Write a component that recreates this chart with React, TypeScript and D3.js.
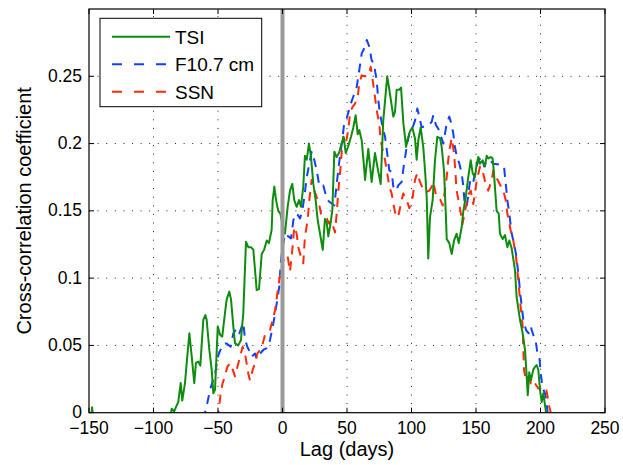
import React from "react";
import * as d3 from "d3";

// ---- Data ----
const xTicks = [-150, -100, -50, 0, 50, 100, 150, 200, 250];
const yTicks = [0, 0.05, 0.1, 0.15, 0.2, 0.25];
const seriesNames = ["TSI", "F10.7 cm", "SSN"];

const tsiLag = [
  -149, -147.6, -146.2, NaN,
  -87, -85.9, -84, -80.8, -78.9, -77.7, -75.6, -73.8, -72.2, -70.4, -68.4, -67.1, -65.3, -63.7,
  -61.4, -59.8, -58.8, -56.7, -54.9, -53.6, -52.3, -50.2, -48.4, -46.7, -44.6, -43.3, -41.2,
  -39.9, -38.1, -36.8, -34.3, -32.2, -30.4, -28.3, -26.5, -24.4, -22.6, -21.3, -20.0, -18.2,
  -16.1, -14.3, -12.2, -10.5, -8.4, -7.6, -6.3, -5.0, -3.3, -1.7, 0, 1.9, 4.0, 5.8, 7.6, 9.1,
  11.0, 12.8, 14.3, 16.1, 17.4, 18.8, 20.5, 22.1, 23.9, 25.7, 27.3, 29.1, 31.2, 32.9, 34.3,
  35.5, 36.8, 38.6, 40.2, 42.0, 43.8, 45.9, 47.4, 49.0, 51.0, 53.1, 54.9, 56.7, 58.3, 59.5,
  61.4, 63.2, 64.0, 66.5, 69.1, 71.7, 73.5, 76.1, 78.1, 81.2, 83.3, 85.9, 87.2, 88.5, 90.5,
  91.9, 93.7, 95.8, 96.8, 98.8, 100.6, 102.7, 104.0, 105.3, 107.1, 109.1, 110.5, 111.8, 113.0,
  114.3, 116.4, 118.2, 120.0, 122.1, 123.4, 125.2, 126.7, 127.3, 129.3, 131.2, 133.0, 135.0,
  136.6, 138.9, 140.2, 142.0, 144.0, 145.9, 147.4, 149.2, 150.5, 151.8, 153.1, 155.2, 157.0,
  158.3, 159.5, 161.4, 162.9, 163.9, 166.0, 167.6, 168.6, 170.7, 172.5, 174.3, 175.8, 177.7,
  180.2, 181.5, 184.1, 186.2, 188.0, 189.3, 190.1, 191.3, 192.6, 194.4, 195.7, 197.0, 198.3,
  199.6, 200.9, 202.2, 204.3, 205.5,
];
const tsiVal = [
  -0.01, 0.004, -0.01, NaN,
  -0.005, 0.003, 0.001, 0.008, 0.022, 0.009, 0.022, 0.042, 0.059, 0.042, 0.022, 0.037, 0.038, 0.035,
  0.069, 0.0725, 0.069, 0.0465, 0.032, 0.0144, 0.017, 0.064, 0.058, 0.0565, 0.074, 0.084, 0.09,
  0.084, 0.064, 0.0515, 0.05, 0.054, 0.074, 0.127, 0.123, 0.123, 0.121, 0.106, 0.091, 0.092,
  0.118, 0.121, 0.128, 0.126, 0.136, 0.158, 0.168, 0.158, 0.15, 0.148, 0.14, 0.133, 0.153, 0.165, 0.17, 0.158,
  0.153, 0.158, 0.153, 0.168, 0.191, 0.188, 0.2, 0.19, 0.17, 0.158, 0.143, 0.133, 0.121, 0.144, 0.141,
  0.131, 0.138, 0.15, 0.194, 0.19, 0.193, 0.2, 0.205, 0.193, 0.198, 0.205, 0.212, 0.221, 0.207, 0.21,
  0.2025, 0.183, 0.173, 0.196, 0.1715, 0.193, 0.183, 0.17, 0.217, 0.25, 0.237, 0.22, 0.2235, 0.24, 0.24,
  0.2416, 0.215, 0.1975, 0.2025, 0.209, 0.212, 0.204, 0.188, 0.2025, 0.212, 0.1975, 0.18, 0.16, 0.1146,
  0.145, 0.158, 0.1876, 0.205, 0.204, 0.1975, 0.18, 0.1455, 0.129, 0.126, 0.118, 0.128, 0.133,
  0.126, 0.138, 0.15, 0.16, 0.175, 0.1876, 0.178, 0.175, 0.185, 0.19, 0.185, 0.1876, 0.183,
  0.191, 0.189, 0.19, 0.189, 0.178, 0.15, 0.148, 0.133, 0.129, 0.132, 0.123, 0.128, 0.122,
  0.106, 0.086, 0.069, 0.059, 0.0466, 0.027, 0.013, 0.03, 0.024, 0.032, 0.034, 0.0354, 0.032,
  0.017, 0.008, 0.0144, 0.0, -0.01,
];

const f107Lag = [
  -61.5, -60.1, -58.3, -56.2, -52.3, -49.7, -47.1, -45.1, -43.3, -40.2, -38.1, -35.5, -33.5,
  -31.6, -30.4, -29.1, -27.3, -25.2, -23.9, -21.3, -20.0, -17.4, -14.9, -12.2, -11.0, -9.7,
  -8.4, -6.6, -4.5, -2.5, -1.4, -0.6, 1.9, 4.5, 6.6, 8.4, 10.2, 11.8, 13.6, 15.3, 16.9, 18.8,
  20.8, 22.6, 24.7, 26.5, 28.3, 30.4, 31.6, 34.3, 36.0, 38.1, 40.2, 42.0, 43.8, 45.9, 47.7,
  49.8, 51.6, 53.1, 54.9, 57.5, 59.5, 61.4, 64.0, 65.3, 67.3, 69.1, 70.9, 73.0, 74.3, 75.6,
  77.7, 79.5, 81.2, 82.8, 84.6, 85.9, 88.0, 89.8, 92.4, 94.2, 96.3, 98.3, 100.9, 102.7, 104.5,
  106.0, 107.9, 110.5, 113.0, 115.6, 116.9, 119.0, 120.8, 122.6, 124.7, 127.3, 129.3, 131.2,
  132.4, 133.7, 135.0, 137.1, 138.9, 140.2, 141.0, 142.8, 145.3, 147.4, 149.2, 151.8, 154.4,
  156.3, 158.3, 160.9, 163.4, 166.5, 169.9, 171.7, 173.3, 174.3, 175.8, 177.7, 178.9, 181.0,
  182.8, 184.6, 186.7, 188.8, 190.8, 192.4, 194.4, 196.0, 197.5, 199.1, 200.2, 201.7, 203.5,
  204.8, 206,
];
const f107Val = [
  -0.005, 0.0, 0.007, 0.017, 0.029, 0.043, 0.049, 0.0515, 0.0515, 0.049, 0.059, 0.0627, 0.059,
  0.064, 0.067, 0.055, 0.049, 0.045, 0.0416, 0.044, 0.04, 0.044, 0.0466, 0.048, 0.049, 0.054,
  0.06, 0.069, 0.081, 0.0936, 0.111, 0.118, 0.133, 0.131, 0.1295, 0.143, 0.148, 0.147, 0.1443, 0.15, 0.16, 0.175,
  0.185, 0.194, 0.1876, 0.18, 0.17, 0.168, 0.169, 0.159, 0.157, 0.1555, 0.154, 0.17, 0.185, 0.2, 0.2137,
  0.219, 0.225, 0.23, 0.235, 0.242, 0.2545, 0.267, 0.272, 0.277, 0.272, 0.262, 0.259, 0.247, 0.232, 0.222,
  0.212, 0.205, 0.1926, 0.18, 0.179, 0.168, 0.165, 0.169, 0.1715, 0.185, 0.1975, 0.2075, 0.212, 0.217, 0.226,
  0.22, 0.212, 0.213, 0.2137, 0.216, 0.221, 0.2137, 0.211, 0.206, 0.2, 0.215, 0.22, 0.2137,
  0.2075, 0.1975, 0.191, 0.185, 0.178, 0.168, 0.158, 0.153, 0.1715, 0.169, 0.178, 0.1876, 0.19,
  0.183, 0.1876, 0.1876, 0.185, 0.1846, 0.184, 0.183, 0.168, 0.158, 0.148, 0.133, 0.128, 0.118,
  0.1035, 0.086, 0.069, 0.0614, 0.059, 0.064, 0.0577, 0.055, 0.045, 0.0416, 0.029, 0.018, 0.0144,
  0.007, -0.005,
];

const ssnLag = [
  -50.5, -49.7, -47.9, -46.4, -44.6, -42.8, -40.7, -38.6, -36.8, -35.0, -32.9, -30.9, -29.1,
  -27.8, -26.5, -25.2, -23.1, -21.3, -19.5, -17.4, -15.3, -13.6, -11.5, -9.7, -7.6, -5.8, -4.0,
  -2.5, -0.6, 1.9, 4.0, 5.8, 7.6, 9.1, 11.0, 12.2, 14.3, 16.1, 17.4, 19.5, 20.8, 22.6, 24.7,
  26.5, 28.3, 29.8, 31.2, 34.3, 36.0, 38.1, 39.4, 40.7, 42.0, 43.3, 44.8, 45.9, 47.1, 49.0,
  51.0, 52.3, 54.1, 56.2, 58.3, 59.5, 61.4, 64.0, 66.5, 68.4, 69.9, 71.7, 73.0, 75.0, 76.1,
  77.7, 79.5, 81.2, 82.8, 84.6, 86.4, 88.0, 89.8, 92.4, 93.6, 96.3, 98.3, 100.9, 102.7, 104.5,
  106.6, 108.7, 111.2, 113.8, 115.6, 116.9, 119.0, 121.6, 124.2, 125.4, 127.3, 128.5, 129.8,
  131.2, 133.0, 135.0, 137.6, 139.5, 141.5, 144.0, 145.9, 147.9, 150.5, 153.1, 155.0, 157.0,
  159.5, 162.2, 163.4, 165.5, 167.3, 169.9, 171.2, 173.0, 174.3, 175.8, 177.4, 178.9, 181.0,
  182.8, 184.6, 186.2, 187.2, 188.8, 190.5, 192.6, 194.4, 196.5, 198.3, 200.2, 202.2, 204.3,
  205.3, 206.8, 208.0, 209,
];
const ssnVal = [
  -0.005, 0.0, 0.0144, 0.022, 0.027, 0.034, 0.0367, 0.032, 0.027, 0.034, 0.0416, 0.049, 0.044,
  0.0367, 0.029, 0.024, 0.032, 0.0367, 0.044, 0.0466, 0.0515, 0.0577, 0.059, 0.0614, 0.069, 0.076, 0.0887,
  0.0985, 0.1084, 0.117, 0.116, 0.105, 0.121, 0.138, 0.133, 0.123, 0.116, 0.111, 0.131, 0.143, 0.158, 0.173, 0.165,
  0.16, 0.1555, 0.148, 0.1455, 0.1443, 0.1406, 0.143, 0.138, 0.134, 0.148, 0.165, 0.18, 0.194, 0.205, 0.2,
  0.21, 0.222, 0.227, 0.2297, 0.2346, 0.2446, 0.2507, 0.25, 0.2507, 0.257, 0.247, 0.2346, 0.2248, 0.215, 0.2025,
  0.195, 0.1876, 0.178, 0.168, 0.163, 0.153, 0.1455, 0.146, 0.158, 0.163, 0.158, 0.152, 0.16, 0.173, 0.178,
  0.1715, 0.1666, 0.164, 0.165, 0.168, 0.1715, 0.1616, 0.16, 0.154, 0.1616, 0.175, 0.188, 0.1975,
  0.204, 0.1926, 0.165, 0.152, 0.14, 0.15, 0.162, 0.165, 0.155, 0.172, 0.183, 0.18, 0.172,
  0.165, 0.173, 0.18, 0.175, 0.172, 0.167, 0.165, 0.158, 0.148, 0.1406, 0.133, 0.128, 0.116,
  0.0985, 0.0787, 0.064, 0.0317, 0.024, 0.0267, 0.0218, 0.024, 0.0206, 0.018, 0.018, 0.0193, 0.018,
  0.013, 0.0045, 0.0, -0.005,
];

const W = 623;
const H = 465;
const FONT = "'Liberation Sans', Arial, Helvetica, sans-serif";

export default function App() {
  const x = d3.scaleLinear().domain([-150, 250]).range([89, 605]);
  const y = d3.scaleLinear().domain([0, 0.3]).range([412.7, 9]);
  const [x0, x1] = x.range();
  const [y0, y1] = y.range();

  const line = d3
    .line<[number, number]>()
    .defined((d) => !isNaN(d[0]) && !isNaN(d[1]))
    .x((d) => x(d[0]))
    .y((d) => y(d[1]));

  const zip = (a: number[], b: number[]) => a.map((v, i) => [v, b[i]] as [number, number]);

  const series = [
    { name: seriesNames[0], data: zip(tsiLag, tsiVal), color: "#0e8c0e", dash: undefined as string | undefined },
    { name: seriesNames[1], data: zip(f107Lag, f107Val), color: "#1040ff", dash: "9,7" },
    { name: seriesNames[2], data: zip(ssnLag, ssnVal), color: "#ff2a0a", dash: "9,7" },
  ];
  // draw order: F10.7, SSN, then TSI on top
  const drawOrder = [series[1], series[2], series[0]];

  const fmt = (v: number) => (v < 0 ? "\u2212" + Math.abs(v) : String(v));
  const tickLen = 5;

  const legendX = 100;
  const legendY = 18.3;
  const legendRows = [36.7, 64.3, 91.7];

  return (
    <svg
      width={W}
      height={H}
      style={{ position: "absolute", left: 0, top: 0, background: "#fff" }}
      fontFamily={FONT}
    >
      <defs>
        <clipPath id="plotclip">
          <rect x={x0} y={y1} width={x1 - x0} height={y0 - y1} />
        </clipPath>
      </defs>
      <rect x={0} y={0} width={W} height={H} fill="#fff" />

      {/* grid */}
      <g stroke="#222" strokeWidth={1} strokeDasharray="1,7.6" fill="none">
        {xTicks.filter((t) => t > -150 && t < 250).map((t) => (
          <line key={"gx" + t} x1={x(t)} x2={x(t)} y1={y0} y2={y1} />
        ))}
        {yTicks.filter((t) => t > 0).map((t) => (
          <line key={"gy" + t} x1={x0} x2={x1} y1={y(t)} y2={y(t)} />
        ))}
      </g>

      {/* data */}
      <g clipPath="url(#plotclip)" fill="none">
        {drawOrder.map((s) => (
          <path
            key={s.name}
            d={line(s.data) || ""}
            stroke={s.color}
            strokeWidth={2}
            strokeDasharray={s.dash}
            strokeLinejoin="round"
          />
        ))}
      </g>

      {/* zero-lag marker */}
      <line x1={x(0)} x2={x(0)} y1={y0} y2={y1} stroke="#9a9a9a" strokeWidth={4} />

      {/* axes box and ticks */}
      <rect x={x0} y={y1} width={x1 - x0} height={y0 - y1} fill="none" stroke="#000" strokeWidth={1.2} />
      <g stroke="#000" strokeWidth={1}>
        {xTicks.map((t) => (
          <g key={"tx" + t}>
            <line x1={x(t)} x2={x(t)} y1={y0} y2={y0 - tickLen} />
            <line x1={x(t)} x2={x(t)} y1={y1} y2={y1 + tickLen} />
          </g>
        ))}
        {yTicks.map((t) => (
          <g key={"ty" + t}>
            <line x1={x0} x2={x0 + tickLen} y1={y(t)} y2={y(t)} />
            <line x1={x1} x2={x1 - tickLen} y1={y(t)} y2={y(t)} />
          </g>
        ))}
      </g>

      {/* tick labels */}
      <g fontSize={17.5} fill="#000">
        {xTicks.map((t) => (
          <text key={"lx" + t} x={x(t)} y={434} textAnchor="middle">
            {fmt(t)}
          </text>
        ))}
        {yTicks.map((t) => (
          <text key={"ly" + t} x={82} y={y(t) + 5.5} textAnchor="end">
            {fmt(t)}
          </text>
        ))}
      </g>

      {/* axis labels */}
      <text x={(x0 + x1) / 2} y={456} textAnchor="middle" fontSize={20}>
        Lag (days)
      </text>
      <text
        transform={`translate(31, ${(y0 + y1) / 2}) rotate(-90)`}
        textAnchor="middle"
        fontSize={20}
      >
        Cross-correlation coefficient
      </text>

      {/* legend */}
      <rect x={legendX} y={legendY} width={161.7} height={88.4} fill="#fff" stroke="#000" strokeWidth={1} />
      {series.map((s, i) => (
        <g key={"lg" + s.name}>
          <line
            x1={112}
            x2={170}
            y1={legendRows[i]}
            y2={legendRows[i]}
            stroke={s.color}
            strokeWidth={2}
            strokeDasharray={s.dash ? "10,12" : undefined}
          />
          <text x={175} y={legendRows[i] + 7} fontSize={19}>
            {s.name}
          </text>
        </g>
      ))}
    </svg>
  );
}
